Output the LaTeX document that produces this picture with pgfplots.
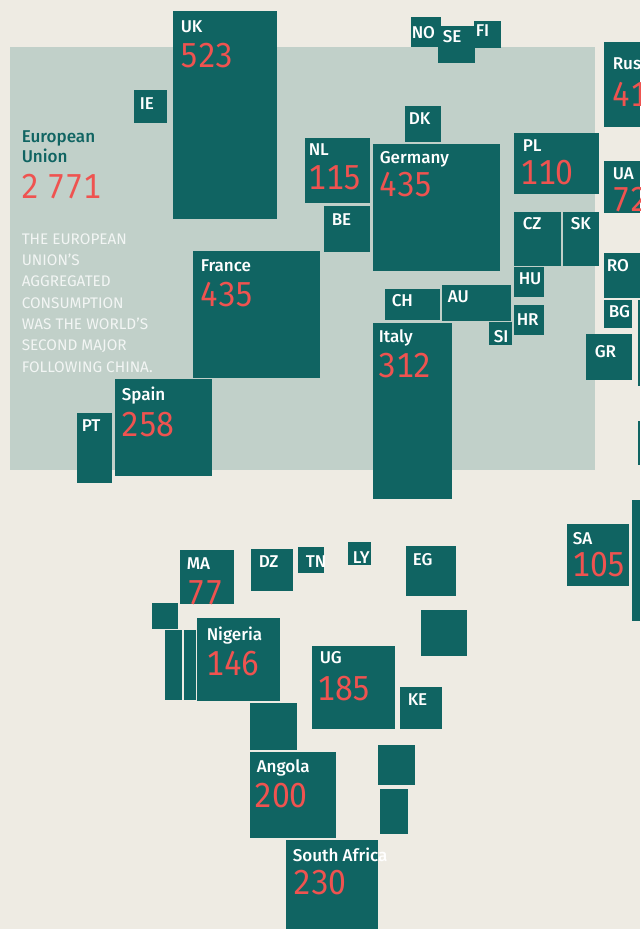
\documentclass[border=0pt]{standalone}
\usepackage{pgfplots}
\pgfplotsset{compat=1.18}
\usepackage{fontspec}
\setmainfont{Fira Sans}
\newfontfamily\med{Fira Sans Medium}
\newfontfamily\num[Numbers={Tabular,Lining},FakeStretch=0.92]{Fira Sans}
\definecolor{paper}{HTML}{EEEBE3}
\definecolor{eu}{HTML}{C1D0C9}
\definecolor{deep}{HTML}{106462}
\definecolor{coral}{HTML}{EF5350}
\definecolor{pale}{HTML}{FFFFFF}

% one pixel of the reference = 0.75pt
\newcommand{\cell}[4]{\addplot[draw=none,fill=deep] coordinates {(#1,#2)(#3,#2)(#3,#4)(#1,#4)} -- cycle;}
\newcommand{\lab}[3]{\node[anchor=base west,inner sep=0pt,text=pale,font=\med\fontsize{12.8}{15}\selectfont] at (axis cs:#1-0.5,#2) {#3};}
\newcommand{\val}[3]{\node[anchor=base west,inner sep=0pt,text=coral,font=\num\fontsize{26}{30}\selectfont] at (axis cs:#1-1,#2) {#3};}

\begin{document}
\begin{tikzpicture}
\useasboundingbox (0,0) rectangle (480pt,696.75pt);
\begin{axis}[
    at={(0,0)}, anchor=south west,
    scale only axis,
    width=480pt, height=696.75pt,
    xmin=0, xmax=640, ymin=0, ymax=929,
    y dir=reverse,
    hide axis,
    clip mode=individual,
]
% backgrounds
\addplot[draw=none,fill=paper] coordinates {(0,0)(640,0)(640,929)(0,929)} -- cycle;
\addplot[draw=none,fill=eu] coordinates {(10,47)(595,47)(595,470)(10,470)} -- cycle;

% Europe
\cell{173}{11}{277}{219}   % UK
\cell{134}{90}{167}{123}   % IE
\cell{411}{17}{441}{47}    % NO
\cell{438}{26}{475}{63}    % SE
\cell{474}{21}{501}{48}    % FI
\cell{405}{106}{441}{142}  % DK
\cell{305}{138}{370}{203}  % NL
\cell{324}{206}{370}{252}  % BE
\cell{373}{144}{500}{271}  % Germany
\cell{514}{133}{599}{194}  % PL
\cell{514}{212}{561}{266}  % CZ
\cell{563}{212}{599}{266}  % SK
\cell{604}{42}{640}{127}   % Russia
\cell{604}{161}{640}{213}  % UA
\cell{604}{253}{640}{298}  % RO
\cell{604}{300}{632}{328}  % BG
\cell{638}{300}{640}{386}
\cell{638}{421}{640}{465}
\cell{586}{334}{632}{380}  % GR
\cell{514}{267}{544}{297}  % HU
\cell{514}{305}{544}{335}  % HR
\cell{442}{285}{511}{321}  % AU
\cell{385}{289}{440}{320}  % CH
\cell{489}{322}{512}{345}  % SI
\cell{373}{323}{452}{499}  % Italy
\cell{193}{251}{320}{378}  % France
\cell{115}{379}{212}{476}  % Spain
\cell{77}{413}{112}{483}   % PT
% Middle East and Africa
\cell{567}{524}{629}{586}  % SA
\cell{632}{500}{640}{621}
\cell{180}{550}{234}{604}  % MA
\cell{251}{549}{293}{591}  % DZ
\cell{298}{547}{324}{573}  % TN
\cell{348}{542}{371}{565}  % LY
\cell{406}{546}{456}{596}  % EG
\cell{421}{610}{467}{656}
\cell{152}{603}{178}{629}
\cell{165}{630}{182}{700}
\cell{184}{630}{196}{700}
\cell{197}{618}{280}{701}  % Nigeria
\cell{312}{646}{395}{729}  % UG
\cell{400}{687}{442}{729}  % KE
\cell{250}{703}{297}{750}
\cell{250}{752}{336}{838}  % Angola
\cell{378}{745}{415}{785}
\cell{380}{789}{408}{834}
\cell{286}{840}{378}{929}  % South Africa

% EU panel text
\node[anchor=base west,inner sep=0pt,text=deep,font=\med\fontsize{12.8}{15}\selectfont] at (axis cs:21.5,142) {European};
\node[anchor=base west,inner sep=0pt,text=deep,font=\med\fontsize{12.8}{15}\selectfont] at (axis cs:21.5,162) {Union};
\val{22}{198}{2 771}
\newcommand{\body}[2]{\node[anchor=base west,inner sep=0pt,text=pale,opacity=0.8,font=\fontsize{11.5}{13}\selectfont] at (axis cs:21.5,#1) {#2};}
\body{244}{THE EUROPEAN}
\body{265}{UNION'S}
\body{286}{AGGREGATED}
\body{308}{CONSUMPTION}
\body{329}{WAS THE WORLD'S}
\body{350}{SECOND MAJOR}
\body{372}{FOLLOWING CHINA.}

% labels and values
\lab{181}{32}{UK}      \val{181}{67}{523}
\lab{140}{109}{IE}
\lab{201}{271}{France} \val{201}{306}{435}
\lab{122}{400}{Spain}  \val{122}{436}{258}
\lab{82}{431}{PT}
\lab{412}{38}{NO}
\lab{443}{42}{SE}
\lab{476}{36}{FI}
\lab{409}{124}{DK}
\lab{309}{155}{NL}     \val{309}{189}{115}
\lab{332}{225}{BE}
\lab{380}{163}{Germany} \val{380}{196}{435}
\lab{523}{151}{PL}     \val{521}{184}{110}
\lab{523}{229}{CZ}
\lab{571}{229}{SK}
\lab{613}{69}{Russia}  \val{613}{106}{41}
\lab{613}{179}{UA}     \val{613}{211}{72}
\lab{607}{271}{RO}
\lab{609}{317}{BG}
\lab{595}{357}{GR}
\lab{519}{284}{HU}
\lab{517}{325}{HR}
\lab{448}{302}{AU}
\lab{392}{306}{CH}
\lab{494}{342}{SI}
\lab{379}{342}{Italy}  \val{379}{377}{312}
\lab{573}{544}{SA}     \val{573}{576}{105}
\lab{187}{569}{MA}
\begin{scope}
\clip (axis cs:180,550) rectangle (axis cs:234,604);
\val{188}{604}{77}
\end{scope}
\lab{259}{567}{DZ}
\begin{scope}
\clip (axis cs:298,547) rectangle (axis cs:324,573);
\lab{306}{567}{TN}
\end{scope}
\lab{353}{563}{LY}
\lab{413}{565}{EG}
\lab{207}{640}{Nigeria} \val{207}{675}{146}
\lab{320}{663}{UG}     \val{318}{700}{185}
\lab{408}{705}{KE}
\lab{257}{772}{Angola} \val{255}{807}{200}
\lab{293}{861}{South Africa} \val{294}{894}{230}
\end{axis}
\end{tikzpicture}
\end{document}
